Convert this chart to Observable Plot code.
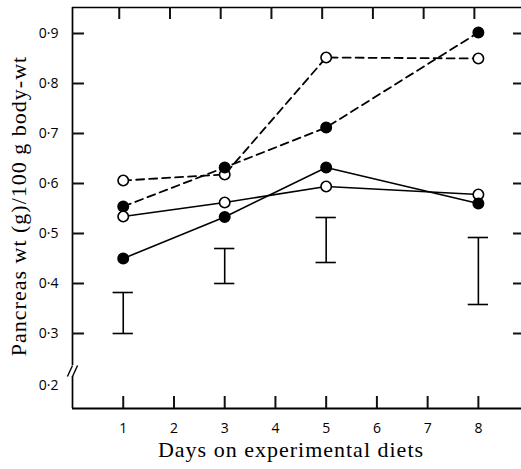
<!DOCTYPE html>
<html><head><meta charset="utf-8">
<script src="https://cdn.jsdelivr.net/npm/d3@7"></script>
<script src="https://cdn.jsdelivr.net/npm/@observablehq/plot@0.6"></script>
<style>html,body{margin:0;padding:0;background:#fff} #chart svg{display:block}</style>
</head><body><div id="chart"></div>
<script>
// Data
const days = [1, 3, 5, 8];
const dashedOpen   = [0.606, 0.618, 0.852, 0.850];
const dashedFilled = [0.554, 0.632, 0.712, 0.902];
const solidOpen    = [0.534, 0.562, 0.594, 0.578];
const solidFilled  = [0.450, 0.533, 0.632, 0.560];
const errDays = [1, 3, 5, 8];
const errLow  = [0.300, 0.400, 0.442, 0.358];
const errHigh = [0.382, 0.470, 0.532, 0.492];

const xTicks = [1, 2, 3, 4, 5, 6, 7, 8];
const yTicks = [0.3, 0.4, 0.5, 0.6, 0.7, 0.8, 0.9];
const yBreakLabel = [0.2];
const xTitle = "Days on experimental diets";
const yTitle = "Pancreas wt (g)/100 g body-wt";

const xDomain = [0, 8.85];
const yDomain = [0.15, 0.952];
const yBreak = [0.214, 0.236];

const W = 521, H = 469, mL = 72, mR = 0, mT = 7, mB = 61;
const frameW = W - mL - mR, frameH = H - mT - mB;
const tickLen = 12, rightTickLen = 8, topShift = -4;

const series = [
  {name: "dashedOpen", values: dashedOpen, dashed: true, filled: false},
  {name: "dashedFilled", values: dashedFilled, dashed: true, filled: true},
  {name: "solidOpen", values: solidOpen, dashed: false, filled: false},
  {name: "solidFilled", values: solidFilled, dashed: false, filled: true}
];
const rows = series.flatMap(s => days.map((d, i) => ({series: s.name, day: d, value: s.values[i], dashed: s.dashed, filled: s.filled})));
const errs = errDays.map((d, i) => ({day: d, lo: errLow[i], hi: errHigh[i]}));

const fmt = d => d3.format(".1f")(d).replace(".", "\u00B7");
const sans = "Open Sans, sans-serif";
const serif = "Liberation Serif, serif";

const breakMarks = [
  {x1: -0.1, y1: yBreak[0], x2: 0, y2: yBreak[1]},
  {x1: 0, y1: yBreak[0], x2: 0.1, y2: yBreak[1]}
];
const xTickRows = xTicks.map(v => ({v}));
const yTickRows = yTicks.map(v => ({v}));
const tk = {stroke: "#111", strokeWidth: 2};

const chart = Plot.plot({
  width: W, height: H,
  marginLeft: mL, marginRight: mR, marginTop: mT, marginBottom: mB,
  x: {domain: xDomain, axis: null},
  y: {domain: yDomain, axis: null},
  marks: [
    // frame with axis break
    Plot.ruleX([0], {y1: yBreak[1], y2: yDomain[1], stroke: "#000", strokeWidth: 1.7}),
    Plot.ruleX([0], {y1: yDomain[0], y2: yBreak[0], stroke: "#000", strokeWidth: 1.7}),
    Plot.link(breakMarks, {x1: "x1", y1: "y1", x2: "x2", y2: "y2", stroke: "#000", strokeWidth: 1.4}),
    Plot.ruleY([yDomain[0]], {stroke: "#000", strokeWidth: 1.8}),
    Plot.ruleY([yDomain[1]], {stroke: "#000", strokeWidth: 1.6}),
    // inward ticks
    Plot.ruleX(xTickRows, {x: "v", insetTop: frameH - tickLen, ...tk}),
    Plot.ruleX(xTickRows, {x: "v", insetBottom: frameH - tickLen, dx: topShift, ...tk}),
    Plot.ruleY(yTickRows, {y: "v", insetRight: frameW - tickLen, ...tk}),
    Plot.ruleY(yTickRows, {y: "v", insetLeft: frameW - rightTickLen, ...tk}),
    // tick labels
    Plot.axisX({ticks: xTicks, tickSize: 0, tickPadding: 15, tickFormat: d => String(d), fontSize: 14, fontFamily: sans}),
    Plot.axisY({ticks: yTicks, tickSize: 0, tickPadding: 14, tickFormat: fmt, fontSize: 14, fontFamily: sans}),
    Plot.axisY({ticks: yBreakLabel, tickSize: 0, tickPadding: 14, dy: 2, tickFormat: fmt, fontSize: 14, fontFamily: sans}),
    // titles
    Plot.text([xTitle], {frameAnchor: "bottom", textAnchor: "middle", dx: -6, dy: 48, text: d => d, fontSize: 22, fontFamily: serif, fill: "#000"}),
    Plot.text([yTitle], {frameAnchor: "left", textAnchor: "middle", dx: -54, dy: -2, rotate: -90, text: d => d, fontSize: 22, fontFamily: serif, fill: "#000"}),
    // error bars
    Plot.ruleX(errs, {x: "day", y1: "lo", y2: "hi", stroke: "#000", strokeWidth: 1.6}),
    Plot.ruleY(errs, {y: "lo", x1: d => d.day - 0.2, x2: d => d.day + 0.2, stroke: "#000", strokeWidth: 1.6}),
    Plot.ruleY(errs, {y: "hi", x1: d => d.day - 0.2, x2: d => d.day + 0.2, stroke: "#000", strokeWidth: 1.6}),
    // lines
    Plot.line(rows.filter(d => d.dashed), {x: "day", y: "value", z: "series", stroke: "#000", strokeWidth: 1.8, strokeDasharray: "8,5"}),
    Plot.line(rows.filter(d => !d.dashed), {x: "day", y: "value", z: "series", stroke: "#000", strokeWidth: 1.6}),
    // points
    Plot.dot(rows, {x: "day", y: "value", r: 5.2, stroke: "#000", strokeWidth: 1.6, fill: d => d.filled ? "#000" : "#fff"})
  ]
});
d3.select(chart).selectAll("g[aria-label=text] text").style("letter-spacing", "1px");
document.getElementById("chart").appendChild(chart);
</script>
</body></html>
